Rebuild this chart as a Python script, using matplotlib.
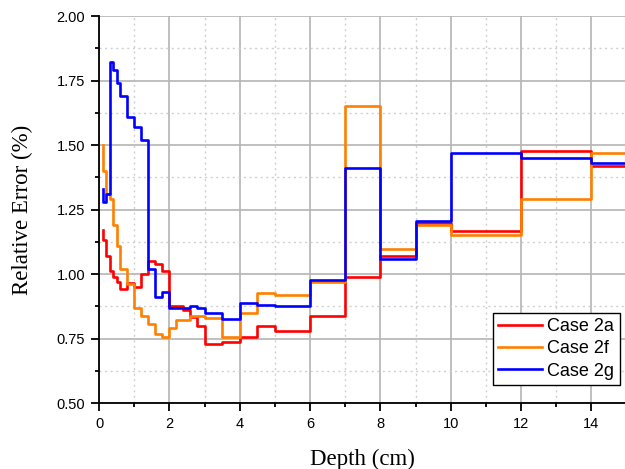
import matplotlib
matplotlib.use("Agg")
import matplotlib.pyplot as plt
from matplotlib.ticker import MultipleLocator, FormatStrFormatter

# Bin edges (cm) – step plot, value applies to interval ending at each edge
depth = [0.1, 0.2, 0.3, 0.4, 0.5, 0.6, 0.8, 1.0, 1.2, 1.4, 1.6, 1.8, 2.0,
         2.2, 2.4, 2.6, 2.8, 3.0, 3.5, 4.0, 4.5, 5.0, 6.0, 7.0, 8.0, 9.0,
         10.0, 12.0, 14.0, 16.0]

case_2a = [1.17, 1.13, 1.07, 1.01, 0.99, 0.97, 0.94, 0.965, 0.95, 1.00, 1.05,
           1.04, 1.01, 0.877, 0.876, 0.862, 0.832, 0.797, 0.727, 0.738, 0.756,
           0.797, 0.780, 0.837, 0.990, 1.070, 1.196, 1.167, 1.478, 1.419]

case_2f = [1.50, 1.40, 1.31, 1.29, 1.19, 1.11, 1.02, 0.96, 0.87, 0.837, 0.806,
           0.767, 0.757, 0.79, 0.82, 0.82, 0.837, 0.837, 0.828, 0.757, 0.849,
           0.927, 0.918, 0.969, 1.651, 1.096, 1.190, 1.151, 1.289, 1.468]

case_2g = [1.33, 1.28, 1.31, 1.82, 1.79, 1.74, 1.69, 1.61, 1.57, 1.52, 1.02,
           0.91, 0.93, 0.869, 0.869, 0.869, 0.877, 0.869, 0.848, 0.827, 0.887,
           0.878, 0.877, 0.977, 1.410, 1.057, 1.207, 1.468, 1.451, 1.431]

labels = ["Case 2a", "Case 2f", "Case 2g"]
colors = ["#ff0000", "#ff8000", "#0000ff"]

fig = plt.figure(figsize=(6.25, 4.69), dpi=100)
ax = fig.add_axes([99/625, 66/469, 527.5/625, 387/469])

for ys, lab, c in zip([case_2a, case_2f, case_2g], labels, colors):
    ax.step(depth, ys, where='pre', color=c, lw=1.9, label=lab)

ax.set_xlim(0, 15)
ax.set_ylim(0.5, 2.0)
ax.xaxis.set_major_locator(MultipleLocator(2))
ax.xaxis.set_minor_locator(MultipleLocator(1))
ax.yaxis.set_major_locator(MultipleLocator(0.25))
ax.yaxis.set_minor_locator(MultipleLocator(0.125))
ax.yaxis.set_major_formatter(FormatStrFormatter('%.2f'))

ax.grid(which='major', color='#b4b4b4', lw=1.2, ls='-')
ax.grid(which='minor', color='#cfcfcf', lw=1.0, ls=(0, (1.5, 2.5)))
ax.set_axisbelow(True)

for s in ['top', 'right']:
    ax.spines[s].set_visible(False)
for s in ['left', 'bottom']:
    ax.spines[s].set_linewidth(1.3)
    ax.spines[s].set_color('black')

ax.tick_params(which='major', direction='out', length=6, width=1.3,
               labelsize=10.5, pad=4)
ax.tick_params(which='minor', direction='out', length=3, width=1.3)
for t in ax.get_xticklabels() + ax.get_yticklabels():
    t.set_fontfamily('Liberation Sans')

ax.set_xlabel('Depth (cm)', fontfamily='Liberation Serif', fontsize=16.5, labelpad=13)
ax.set_ylabel('Relative Error (%)', fontfamily='Liberation Serif', fontsize=16.5, labelpad=17)

leg = fig.legend(loc='upper left', bbox_to_anchor=(493/625, 1 - 313/469),
                 bbox_transform=fig.transFigure,
                 prop={'family': 'Liberation Sans', 'size': 13},
                 frameon=True, fancybox=False, edgecolor='black',
                 framealpha=1, handlelength=2.4, borderpad=0.3,
                 labelspacing=0.28, handletextpad=0.3, borderaxespad=0)
leg.get_frame().set_linewidth(1.0)

fig.savefig('out.png', dpi=100)
